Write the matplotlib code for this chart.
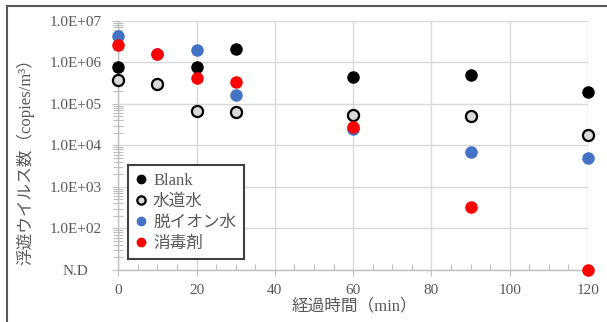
import matplotlib

matplotlib.use("Agg")
import matplotlib.pyplot as plt
from matplotlib.lines import Line2D
from matplotlib.ticker import FixedLocator, LogLocator, NullFormatter

# "N.D" (not detected) is drawn on the bottom gridline
ND = 1e1

minutes = [0, 10, 20, 30, 60, 90, 120]
blank_minutes = [0, 20, 30, 60, 90, 120]
blank = [7.6e5, 7.5e5, 2.05e6, 4.3e5, 5.0e5, 1.96e5]
tap_water = [3.7e5, 3.0e5, 6.8e4, 6.2e4, 5.3e4, 5.0e4, 1.8e4]
deionized = [4.3e6, 1.55e6, 1.96e6, 1.66e5, 2.5e4, 7.1e3, 5.0e3]
disinfectant = [2.6e6, 1.55e6, 4.1e5, 3.3e5, 2.8e4, 3.2e2, ND]

y_ticks = [ND, 1e2, 1e3, 1e4, 1e5, 1e6, 1e7]
y_tick_labels = ["N.D", "1.0E+02", "1.0E+03", "1.0E+04", "1.0E+05", "1.0E+06", "1.0E+07"]
x_ticks = [0, 20, 40, 60, 80, 100, 120]

FONTS = ["Liberation Serif", "Noto Sans CJK JP"]
TEXT = "#595959"
GRID = "#D9D9D9"
AXIS = "#BFBFBF"

fig = plt.figure(figsize=(6.07, 3.22), dpi=100)
ax = fig.add_axes([0.1949, 0.1615, 0.7738, 0.7742])

ms = 8
common = dict(linestyle="none", marker="o", markersize=ms, clip_on=False, zorder=5)
ax.plot(blank_minutes, blank, color="black", markeredgecolor="black", label="Blank", **common)
ax.plot(minutes, tap_water, color="#D9D9D9", markeredgecolor="black", markeredgewidth=1.6,
        label="水道水", **common)
ax.plot(minutes, deionized, color="#4472C4", markeredgecolor="#4472C4", label="脱イオン水", **common)
ax.plot(minutes, disinfectant, color="#FF0000", markeredgecolor="#FF0000", label="消毒剤", **common)

ax.set_yscale("log")
ax.set_ylim(ND, 1e7)
ax.set_xlim(0, 120)

ax.yaxis.set_major_locator(FixedLocator(y_ticks))
ax.yaxis.set_minor_locator(LogLocator(base=10, subs=range(2, 10)))
ax.yaxis.set_minor_formatter(NullFormatter())
ax.set_yticklabels(y_tick_labels, ha="center", family=FONTS, fontsize=11, color=TEXT)
ax.set_xticks(x_ticks)
ax.set_xticks(range(0, 121, 5), minor=True)
ax.set_xticklabels([str(t) for t in x_ticks], family=FONTS, fontsize=11, color=TEXT)

ax.tick_params(axis="y", which="major", direction="out", length=4, width=0.8, color=AXIS, pad=27)
ax.tick_params(axis="y", which="minor", direction="inout", length=7, width=0.8, color=AXIS)
ax.tick_params(axis="x", which="major", direction="out", length=4, width=0.8, color=AXIS, pad=6)
ax.tick_params(axis="x", which="minor", direction="in", length=4, width=0.8, color=AXIS)

ax.grid(True, which="major", color=GRID, linewidth=1.0)
ax.set_axisbelow(True)
for side in ("top", "right"):
    ax.spines[side].set_visible(False)
for side in ("left", "bottom"):
    ax.spines[side].set_color(AXIS)
    ax.spines[side].set_linewidth(1.0)

leg = ax.legend(loc="lower left", bbox_to_anchor=(0.0207, 0.044), borderaxespad=0,
                prop={"family": FONTS, "size": 12}, handlelength=0.7, handletextpad=0.35,
                labelspacing=0.3, borderpad=0.45, fancybox=False, framealpha=1,
                markerscale=0.75)
leg.get_frame().set_edgecolor("#404040")
leg.get_frame().set_linewidth(1.5)
for txt in leg.get_texts():
    txt.set_color(TEXT)

fig.text(25 / 607, 0.511, "浮遊ウイルス数（copies/m³）", rotation=90, ha="center", va="center",
         family=FONTS, fontsize=12, color=TEXT)
fig.text(0.584, (322 - 306) / 322, "経過時間（min）", ha="center", va="center",
         family=FONTS, fontsize=12, color=TEXT)

# outer chart frame
fig.add_artist(Line2D([7 / 607, 1], [1 - 6 / 322, 1 - 6 / 322], color="#595959", linewidth=1.5))
fig.add_artist(Line2D([7 / 607, 7 / 607], [0, 1 - 6 / 322], color="#595959", linewidth=1.5))

fig.savefig("out.png", dpi=100)
plt.close(fig)
